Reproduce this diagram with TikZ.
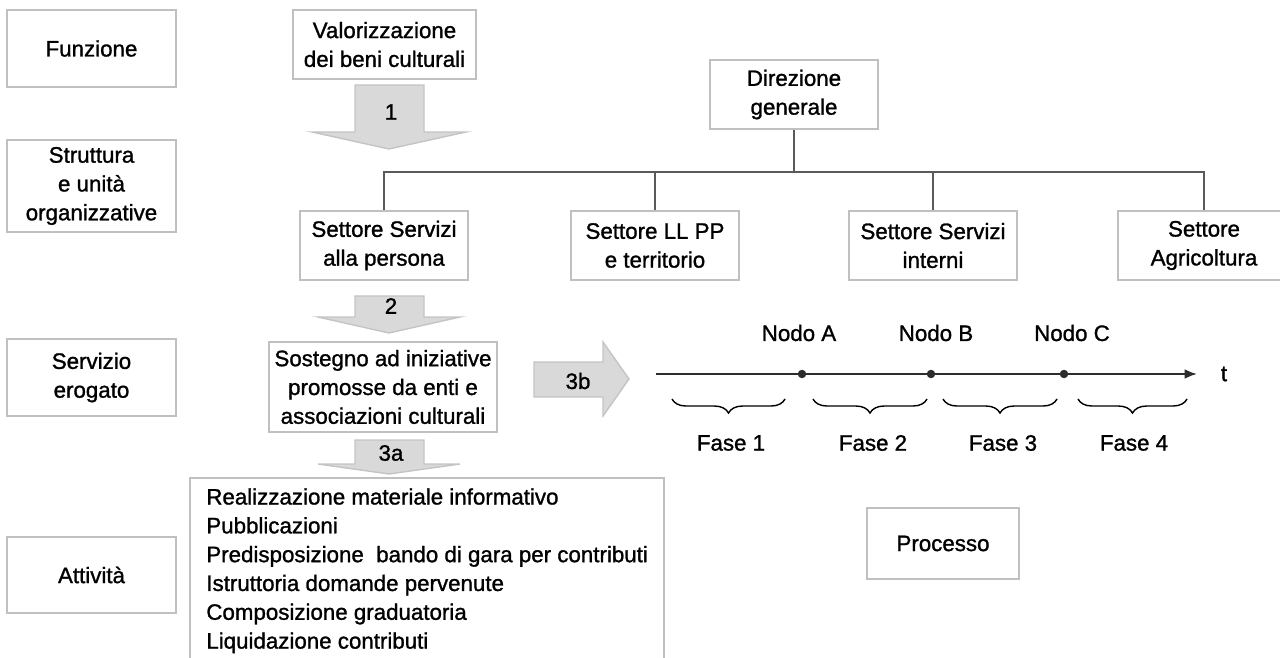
\documentclass[tikz,border=0pt]{standalone}
\usepackage{fontspec}
\setmainfont{Liberation Sans}[FakeBold=1.2]
\usetikzlibrary{decorations.pathreplacing,arrows.meta}
\definecolor{boxgray}{RGB}{192,192,192}
\definecolor{linegray}{RGB}{90,90,90}
\definecolor{arrowfill}{RGB}{217,217,217}
\definecolor{arrowedge}{RGB}{196,196,196}
\definecolor{timegray}{RGB}{45,45,45}

\begin{document}
\begin{tikzpicture}[x=0.02cm, y=-0.02cm,
  every node/.style={font=\fontsize{12.7}{16.4}\selectfont},
  box/.style={draw=boxgray, line width=1pt, align=center, inner sep=0pt},
  orgline/.style={draw=linegray, line width=1.5pt},
  bigarrow/.style={fill=arrowfill, draw=arrowedge, line width=0.8pt},
  fase/.style={decorate, decoration={brace, mirror, amplitude=8pt}, line width=0.8pt},
  dot/.style={circle, fill=timegray, inner sep=0pt, minimum size=0.17cm}]
  \useasboundingbox (0,0) rectangle (1280,658);

  % colonna di sinistra
  \node[box, minimum width=3.38cm, minimum height=1.54cm] (funz) at (91.5,48.5) {Funzione};
  \node[box, minimum width=3.38cm, minimum height=1.84cm] (strut) at (91.5,186) {Struttura\\ e unità\\ organizzative};
  \node[box, minimum width=3.38cm, minimum height=1.54cm] (serv) at (91.5,377.5) {Servizio\\ erogato};
  \node[box, minimum width=3.38cm, minimum height=1.52cm] (attiv) at (91.5,575) {Attività};

  % funzione e organigramma
  \node[box, minimum width=3.66cm, minimum height=1.38cm] (valor) at (384.5,44.5) {Valorizzazione\\ dei beni culturali};
  \node[box, minimum width=3.36cm, minimum height=1.38cm] (dir) at (794,94.5) {Direzione\\ generale};
  \node[box, minimum width=3.36cm, minimum height=1.38cm] (s1) at (384,245.5) {Settore Servizi\\ alla persona};
  \node[box, minimum width=3.36cm, minimum height=1.38cm] (s2) at (655,245.5) {Settore LL PP\\ e territorio};
  \node[box, minimum width=3.36cm, minimum height=1.38cm] (s3) at (933,245.5) {Settore Servizi\\ interni};
  \node[box, minimum width=3.44cm, minimum height=1.38cm] (s4) at (1204,245.5) {Settore\\ Agricoltura};
  \coordinate (bus) at (0,172);
  \draw[orgline] (dir.south) -- (dir.south |- bus);
  \draw[orgline] (s1.north) -- (s1.north |- bus) -- (s4.north |- bus) -- (s4.north);
  \draw[orgline] (s2.north) -- (s2.north |- bus);
  \draw[orgline] (s3.north) -- (s3.north |- bus);

  % frecce
  \draw[bigarrow] (355,85) -- (424,85) -- (424,132) -- (466,132) -- (389,149) -- (312,132) -- (355,132) -- cycle;
  \node (n1) at (391,112) {1};
  \draw[bigarrow] (355,296) -- (424,296) -- (424,317) -- (460,317) -- (389,333) -- (318,317) -- (355,317) -- cycle;
  \node (n2) at (391,306) {2};
  \draw[bigarrow] (355,440) -- (424,440) -- (424,464) -- (460,464) -- (389,474) -- (318,464) -- (355,464) -- cycle;
  \node (n3a) at (391,453) {3a};
  \draw[bigarrow] (534,362) -- (603,362) -- (603,342) -- (629,379) -- (603,416) -- (603,397) -- (534,397) -- cycle;
  \node (n3b) at (578,381) {3b};

  % servizio e attivita
  \node[box, minimum width=4.56cm, minimum height=1.8cm] (sost) at (383,387) {Sostegno ad iniziative\\ promosse da enti e\\ associazioni culturali};
  \draw[box] (190,662) -- (190,478) -- (664,478) -- (664,662);
  \node[anchor=north west, align=left, inner sep=0pt] (attlist) at (206,488)
    {Realizzazione materiale informativo\\ Pubblicazioni\\ Predisposizione\ \ bando di gara per contributi\\
     Istruttoria domande pervenute\\ Composizione graduatoria\\ Liquidazione contributi};

  % processo
  \coordinate (t0) at (656,374);
  \coordinate (t1) at (1197,374);
  \draw[timegray, line width=1.1pt, -{Latex[length=7pt, width=5.5pt]}] (t0) -- (t1);
  \node (tlab) at (1224,374) {t};
  \node[dot] (nA) at (802,374) {};
  \node[dot] (nB) at (931,374) {};
  \node[dot] (nC) at (1064,374) {};
  \node (labA) at (799,333) {Nodo A};
  \node (labB) at (936,333) {Nodo B};
  \node (labC) at (1072,333) {Nodo C};
  \draw[fase] (672,399) -- (785,399);
  \draw[fase] (813,399) -- (927,399);
  \draw[fase] (943,399) -- (1057,399);
  \draw[fase] (1078,399) -- (1187,399);
  \node (f1) at (731,443) {Fase 1};
  \node (f2) at (873,443) {Fase 2};
  \node (f3) at (1003,443) {Fase 3};
  \node (f4) at (1134,443) {Fase 4};
  \node[box, minimum width=3.04cm, minimum height=1.42cm] (proc) at (943,543.5) {Processo};
\end{tikzpicture}
\end{document}
